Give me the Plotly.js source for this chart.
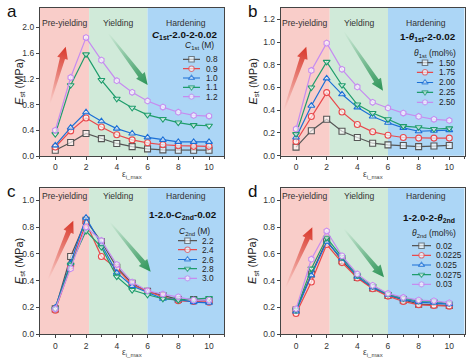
<!DOCTYPE html>
<html><head><meta charset="utf-8">
<script src="https://cdn.plot.ly/plotly-3.0.1.min.js"></script>
<style>html,body{margin:0;padding:0;background:#fff}</style>
</head><body><div id="chart" style="width:469px;height:359px"></div>
<script>
// ---------- data ----------
const strain = [0,1,2,3,4,5,6,7,8,9,10];
const xTicks = [0,2,4,6,8,10];
const regionNames = ['Pre-yielding','Yielding','Hardening'];
const regionBounds = [-1, 2.2, 6, 11];

// panel a : C1st (M)
const labelsA = ['0.8','0.9','1.0','1.1','1.2'];
const a_08 = [0.09,0.21,0.35,0.27,0.195,0.145,0.11,0.095,0.09,0.09,0.09];
const a_09 = [0.14,0.39,0.59,0.45,0.33,0.25,0.205,0.175,0.16,0.15,0.15];
const a_10 = [0.165,0.44,0.68,0.54,0.425,0.35,0.29,0.25,0.22,0.22,0.22];
const a_11 = [0.34,1.10,1.58,1.18,0.89,0.75,0.64,0.575,0.52,0.48,0.47];
const a_12 = [0.40,1.22,1.84,1.49,1.17,0.99,0.855,0.76,0.68,0.63,0.62];

// panel b : theta1st (mol%)
const labelsB = ['1.50','1.75','2.00','2.25','2.50'];
const b_150 = [0.075,0.22,0.32,0.215,0.16,0.11,0.095,0.09,0.08,0.085,0.09];
const b_175 = [0.125,0.345,0.555,0.385,0.275,0.21,0.18,0.16,0.155,0.155,0.155];
const b_200 = [0.16,0.44,0.68,0.54,0.425,0.345,0.29,0.245,0.215,0.22,0.225];
const b_225 = [0.19,0.60,0.825,0.62,0.45,0.375,0.32,0.26,0.25,0.235,0.24];
const b_250 = [0.235,0.75,0.99,0.76,0.605,0.47,0.42,0.375,0.345,0.32,0.31];

// panel c : C2nd (M)
const labelsC = ['2.2','2.4','2.6','2.8','3.0'];
const c_22 = [0.19,0.58,0.85,0.69,0.50,0.38,0.32,0.29,0.26,0.26,0.25];
const c_24 = [0.18,0.51,0.83,0.58,0.49,0.37,0.32,0.28,0.25,0.245,0.24];
const c_26 = [0.20,0.53,0.87,0.67,0.46,0.36,0.31,0.265,0.26,0.24,0.235];
const c_28 = [0.19,0.52,0.77,0.65,0.43,0.33,0.295,0.265,0.255,0.265,0.27];
const c_30 = [0.19,0.49,0.80,0.70,0.52,0.39,0.325,0.30,0.28,0.255,0.255];

// panel d : theta2nd (mol%)
const labelsD = ['0.02','0.0225','0.025','0.0275','0.03'];
const d_0200 = [0.18,0.45,0.70,0.55,0.425,0.345,0.29,0.255,0.225,0.22,0.215];
const d_0225 = [0.155,0.39,0.67,0.535,0.42,0.34,0.285,0.245,0.22,0.215,0.21];
const d_0250 = [0.17,0.44,0.69,0.565,0.43,0.35,0.295,0.26,0.24,0.235,0.225];
const d_0275 = [0.18,0.49,0.72,0.575,0.44,0.36,0.30,0.27,0.25,0.245,0.23];
const d_0300 = [0.19,0.56,0.77,0.585,0.45,0.365,0.305,0.275,0.255,0.25,0.235];

// ---------- styling ----------
const W = 469, H = 359;
const px = x => x / W, py = y => 1 - y / H;
const FONT = 'Liberation Sans, Arial, sans-serif';
const colors = ['#555555','#e9494c','#1b6fd6','#1f9d6c','#c68cf0'];
const symbols = ['square','circle','triangle-up','triangle-down','hexagon'];
const regionColors = ['#f9cdc9','#d0ead9','#acd6f6'];

const panels = [
  {letter:'a', x0:39.9, x1:224.4, yt:8, yb:156, yr:[0,2.3], dt:0.4, ytX:20,
   series:[a_08,a_09,a_10,a_11,a_12], labels:labelsA,
   title:'<b><i>C</i><sub>1st</sub>-2.0-2-0.02</b>', tR:219, tY:35,
   ltitle:'<i>C</i><sub>1st</sub> (M)', ltX:199, ltY:45,
   lineL:183, lineR:200, textL:204, rows:[59.3,68.7,78,87.3,96.7],
   arrows:[[50,103,65.7,46.7,'#d8372a'],[108.3,33.3,147.7,85,'#2c9457']]},
  {letter:'b', x0:280.7, x1:464.6, yt:7.9, yb:155.7, yr:[0,1.3], dt:0.2, ytX:27,
   series:[b_150,b_175,b_200,b_225,b_250], labels:labelsB,
   title:'<b>1-<i>θ</i><sub>1st</sub>-2-0.02</b>', tR:458, tY:37.5,
   ltitle:'<i>θ</i><sub>1st</sub> (mol%)', ltX:435, ltY:53.5,
   lineL:416.7, lineR:433.3, textL:437, rows:[62.7,72.3,82.5,92.3,102.3],
   arrows:[[284,110,306.3,46.7,'#d8372a'],[344,31.7,383,90.7,'#2c9457']]},
  {letter:'c', x0:39.9, x1:224.4, yt:188.2, yb:334.3, yr:[0,1.09], dt:0.2, ytX:20,
   series:[c_22,c_24,c_26,c_28,c_30], labels:labelsC,
   title:'<b>1-2.0-<i>C</i><sub>2nd</sub>-0.02</b>', tR:219, tY:215,
   ltitle:'<i>C</i><sub>2nd</sub> (M)', ltX:194, ltY:231,
   lineL:178, lineR:197, textL:200, rows:[240.7,249.7,259.5,268.7,278.3],
   arrows:[[48.3,279,73.3,220.7,'#d8372a'],[110,222.3,150.7,271.7,'#2c9457']]},
  {letter:'d', x0:280.7, x1:464.6, yt:188.2, yb:334.3, yr:[0,1.09], dt:0.2, ytX:27,
   series:[d_0200,d_0225,d_0250,d_0275,d_0300], labels:labelsD,
   title:'<b>1-2.0-2-<i>θ</i><sub>2nd</sub></b>', tR:457, tY:218,
   ltitle:'<i>θ</i><sub>2nd</sub> (mol%)', ltX:433.5, ltY:233.5,
   lineL:412, lineR:431, textL:434, rows:[245.7,255.3,265,274.7,284.3],
   arrows:[[285.7,287.3,312.3,227.3,'#d8372a'],[344,229,384,277.3,'#2c9457']]}
];

const traces = [];
const layout = {
  width: W, height: H, margin:{l:0,r:0,t:0,b:0},
  paper_bgcolor:'#ffffff', plot_bgcolor:'rgba(0,0,0,0)',
  showlegend:false, font:{family:FONT, color:'#222'},
  shapes:[], annotations:[], images:[]
};

let svgParts = [];
function arrowSVG(tx,ty,hx,hy,col,idx){
  const dx=hx-tx, dy=hy-ty, L=Math.hypot(dx,dy), ux=dx/L, uy=dy/L, nx=-uy, ny=ux;
  const hl=12, hw=5.5, sh=2.6, st=0.6;
  const bx=hx-ux*hl, by=hy-uy*hl;
  const pts=[[tx+nx*st,ty+ny*st],[bx+nx*sh,by+ny*sh],[bx+nx*hw,by+ny*hw],[hx,hy],
             [bx-nx*hw,by-ny*hw],[bx-nx*sh,by-ny*sh],[tx-nx*st,ty-ny*st]];
  const id='g'+idx;
  return `<defs><linearGradient id="${id}" gradientUnits="userSpaceOnUse" x1="${tx}" y1="${ty}" x2="${hx}" y2="${hy}">`+
    `<stop offset="0" stop-color="${col}" stop-opacity="0"/><stop offset="0.55" stop-color="${col}" stop-opacity="0.55"/>`+
    `<stop offset="1" stop-color="${col}" stop-opacity="1"/></linearGradient></defs>`+
    `<polygon points="${pts.map(p=>p[0].toFixed(1)+','+p[1].toFixed(1)).join(' ')}" fill="url(#${id})"/>`;
}

panels.forEach((p, i) => {
  const n = i + 1, xa = 'x' + n, ya = 'y' + n;
  const axKey = n === 1 ? '' : n;
  layout['xaxis' + axKey] = {
    domain:[px(p.x0), px(p.x1)], anchor: ya, range:[-1,11],
    tickvals: xTicks, ticks:'outside', ticklen:3, tickwidth:1, tickcolor:'#444',
    minor:{tick0:0, dtick:1, ticks:'outside', ticklen:2, tickcolor:'#444'},
    showline:true, mirror:true, linecolor:'#444', linewidth:1,
    showgrid:false, zeroline:false, fixedrange:true,
    tickfont:{size:8.5, color:'#333', family:FONT}
  };
  layout['yaxis' + axKey] = {
    domain:[py(p.yb), py(p.yt)], anchor: xa, range:p.yr,
    tick0:0, dtick:p.dt, tickformat:'.1f', ticks:'outside', ticklen:3, tickwidth:1, tickcolor:'#444',
    showline:true, mirror:true, linecolor:'#444', linewidth:1,
    showgrid:false, zeroline:false, fixedrange:true,
    tickfont:{size:8.5, color:'#333', family:FONT}
  };
  // axis titles
  layout.annotations.push({xref:'paper', yref:'paper', x:px(p.x0 - p.ytX), y:py((p.yt + p.yb) / 2),
    xanchor:'center', yanchor:'middle', textangle:-90, showarrow:false,
    text:'<i>E</i><sub>st</sub> (MPa)', font:{size:11, color:'#222', family:FONT}});
  layout.annotations.push({xref:'paper', yref:'paper', x:px((p.x0 + p.x1) / 2), y:py(p.yb + 18.5),
    xanchor:'center', yanchor:'middle', showarrow:false,
    text:'ε<sub>i_max</sub>', font:{size:8.5, color:'#444', family:FONT}});
  // region shading & labels
  for (let r = 0; r < 3; r++) {
    layout.shapes.push({type:'rect', xref:xa, yref:ya+' domain', x0:regionBounds[r], x1:regionBounds[r+1],
      y0:0, y1:1, fillcolor:regionColors[r], line:{width:0}, layer:'below'});
    layout.annotations.push({xref:xa, yref:'paper', x:(regionBounds[r]+regionBounds[r+1])/2,
      y:py(p.yt+8), text:regionNames[r], showarrow:false, font:{size:8.6, color:'#333', family:FONT}});
  }
  // data
  p.series.forEach((s, k) => {
    traces.push({type:'scatter', mode:'lines+markers', x:strain, y:s, xaxis:xa, yaxis:ya,
      line:{color:colors[k], width:1.2},
      marker:{symbol:symbols[k], size:6, color:'rgba(255,255,255,0.65)', line:{color:colors[k], width:1.1}},
      name:p.labels[k], hoverinfo:'skip'});
  });
  // legend (manual, compact)
  const lxKey = 'xaxis' + (n + 4), lyKey = 'yaxis' + (n + 4);
  const rowTop = p.rows[0] - 5, rowBot = p.rows[4] + 5;
  layout[lxKey] = {domain:[px(p.lineL), px(p.lineR)], range:[0,1], visible:false, fixedrange:true, anchor:'y'+(n+4)};
  layout[lyKey] = {domain:[py(rowBot), py(rowTop)], range:[rowBot, rowTop], visible:false, fixedrange:true, anchor:'x'+(n+4)};
  p.labels.forEach((lab, k) => {
    const r = p.rows[k];
    traces.push({type:'scatter', mode:'lines+markers', x:[0,0.5,1], y:[r,r,r],
      xaxis:'x'+(n+4), yaxis:'y'+(n+4), line:{color:colors[k], width:1.2},
      marker:{symbol:symbols[k], size:[0,5.5,0], color:'rgba(255,255,255,0.9)', line:{color:colors[k], width:1.1}},
      hoverinfo:'skip', showlegend:false});
    layout.annotations.push({xref:'paper', yref:'paper', x:px(p.textL), y:py(r), xanchor:'left', yanchor:'middle',
      text:lab, showarrow:false, font:{size:8.3, color:'#222', family:FONT}});
  });
  layout.annotations.push({xref:'paper', yref:'paper', x:px(p.ltX), y:py(p.ltY), xanchor:'center', yanchor:'middle',
    text:p.ltitle, showarrow:false, font:{size:8.5, color:'#222', family:FONT}});
  layout.annotations.push({xref:'paper', yref:'paper', x:px(p.tR), y:py(p.tY), xanchor:'right', yanchor:'middle',
    text:p.title, showarrow:false, font:{size:9.8, color:'#111', family:FONT}});
  // panel letter
  layout.annotations.push({xref:'paper', yref:'paper', x:px(p.x0 - 28), y:py(Math.max(0, p.yt - 8)), xanchor:'center', yanchor:'top',
    text:p.letter, showarrow:false, font:{size:17, color:'#111', family:FONT}});
  p.arrows.forEach((a, j) => svgParts.push(arrowSVG(a[0],a[1],a[2],a[3],a[4], i*2+j)));
});

const svg = `<svg xmlns="http://www.w3.org/2000/svg" width="${W}" height="${H}" viewBox="0 0 ${W} ${H}">${svgParts.join('')}</svg>`;
layout.images.push({source:'data:image/svg+xml;charset=utf-8,' + encodeURIComponent(svg),
  xref:'paper', yref:'paper', x:0, y:1, sizex:1, sizey:1, xanchor:'left', yanchor:'top',
  sizing:'stretch', layer:'above'});

Plotly.newPlot('chart', traces, layout, {displayModeBar:false, staticPlot:true});
</script></body></html>
